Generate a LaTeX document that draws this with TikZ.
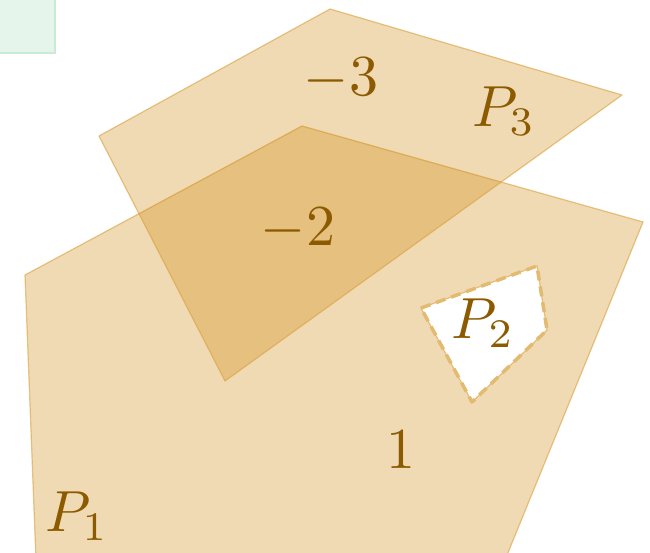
\documentclass[tikz,border=0pt]{standalone}
\begin{document}
\begin{tikzpicture}[x=1pt,y=-1pt,
  polyfill/.style={fill={rgb,255:red,205;green,132;blue,5},fill opacity=0.3,draw={rgb,255:red,218;green,160;blue,60},draw opacity=0.6,line width=1.2pt,line join=round},
  holeedge/.style={draw={rgb,255:red,226;green,186;blue,112},line width=3.5pt,dash pattern=on 10pt off 6pt,line join=round},
  lab/.style={text={rgb,255:red,140;green,90;blue,0},scale=5.8,inner sep=0pt}]
\useasboundingbox (0,0) rectangle (650,552);
\clip (0,0) rectangle (650,552);
% green box
\draw[fill={rgb,255:red,230;green,245;blue,236},draw={rgb,255:red,200;green,235;blue,212},line width=1.5pt] (-20,-20) rectangle (55,53);
% P1 with hole P2
\path[polyfill,even odd rule] (25,275) -- (302,126) -- (643,222) -- (505,560) -- (36,560) -- cycle
  (421,308) -- (537,266) -- (547,330) -- (472,402) -- cycle;
\draw[holeedge] (421,308) -- (537,266) -- (547,330) -- (472,402) -- cycle;
% P3
\path[polyfill] (99,136) -- (330,9) -- (622,95) -- (225,381) -- cycle;
% labels
\node[lab] (m3) at (341,79) {$-3$};
\node[lab] (p3) at (504,111) {$P_3$};
\node[lab] (m2) at (298,229) {$-2$};
\node[lab] (p2) at (483,323) {$P_2$};
\node[lab] (one) at (401,450) {$1$};
\node[lab] (p1) at (77,516) {$P_1$};
\end{tikzpicture}
\end{document}
